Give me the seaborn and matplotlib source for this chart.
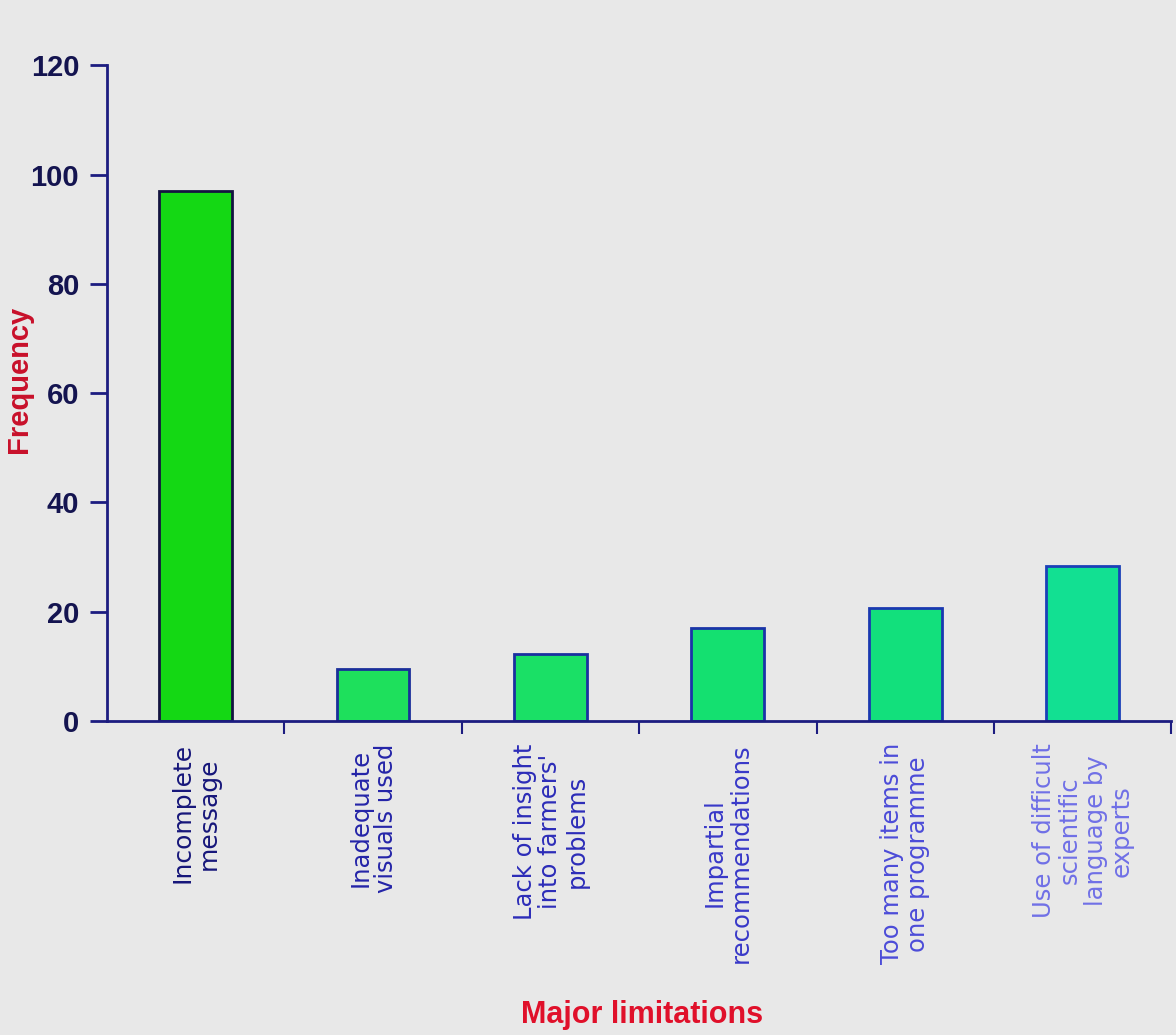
import matplotlib
matplotlib.use("Agg")
import pandas as pd
import seaborn as sns
import matplotlib.pyplot as plt
from matplotlib.ticker import FixedLocator

# values
limitations = [
    "Incomplete\nmessage",
    "Inadequate\nvisuals used",
    "Lack of insight\ninto farmers'\nproblems",
    "Impartial\nrecommendations",
    "Too many items in\none programme",
    "Use of difficult\nscientific\nlanguage by\nexperts",
]
frequency = [97, 9.5, 12.3, 17, 20.7, 28.4]
y_ticks = [0, 20, 40, 60, 80, 100, 120]

bar_colors = ["#14d814", "#1ee05c", "#1ae066", "#14e070", "#12e07c", "#12e092"]
edge_colors = ["#141440", "#1a2e9a", "#1a30a0", "#1a34a8", "#1a38b0", "#1a40b8"]
label_colors = ["#16167a", "#2424a8", "#2c2cb8", "#3838c8", "#4c4cd8", "#7070e6"]

bg = "#e8e8e8"
navy = "#1c1c80"

sns.set_style("white")
plt.rcParams["font.family"] = ["DejaVu Sans"]

fig = plt.figure(figsize=(11.76, 10.35), dpi=100, facecolor=bg)
ax = fig.add_axes([0.091, 0.3034, 0.905, 0.6336])
ax.set_facecolor(bg)

df = pd.DataFrame({"limitation": limitations, "frequency": frequency})
sns.barplot(data=df, x="limitation", y="frequency", hue="limitation",
            palette=bar_colors, legend=False, width=0.41, ax=ax,
            saturation=1, linewidth=2)
for patch, ec in zip(ax.patches, edge_colors):
    patch.set_edgecolor(ec)

ax.set_xlim(-0.5, 5.5)
ax.set_ylim(0, 120)
ax.set_yticks(y_ticks)
ax.set_yticklabels([str(v) for v in y_ticks], fontsize=21, fontweight="bold",
                   color="#141450", family="Liberation Sans")
ax.tick_params(axis="y", direction="out", length=12, width=2, color=navy,
               pad=8, left=True)

ax.set_xticks(range(len(limitations)))
ax.set_xticklabels(limitations, rotation=90, fontsize=17.5, linespacing=1.1,
                   ha="center", va="top", multialignment="center")
for lbl, c in zip(ax.get_xticklabels(), label_colors):
    lbl.set_color(c)
ax.get_xticklabels()[0].set_fontsize(18)
ax.tick_params(axis="x", which="major", length=0, pad=16)
ax.xaxis.set_minor_locator(FixedLocator([0.5, 1.5, 2.5, 3.5, 4.5, 5.5]))
ax.tick_params(axis="x", which="minor", direction="out", length=9, width=1.5,
               color=navy, bottom=True)

for side in ["top", "right"]:
    ax.spines[side].set_visible(False)
for side in ["left", "bottom"]:
    ax.spines[side].set_color(navy)
    ax.spines[side].set_linewidth(2)

ax.set_xlabel("")
ax.set_ylabel("")
fig.text(0.546, 0.019, "Major limitations", ha="center", va="center",
         fontsize=22, fontweight="bold", color="#e0102a",
         family="Liberation Sans")
fig.text(0.004, 0.633, "Frequency", ha="left", va="center", rotation=90,
         fontsize=21, fontweight="bold", color="#c8102a",
         family="Liberation Sans")

fig.savefig("out.png", dpi=100, facecolor=bg)
